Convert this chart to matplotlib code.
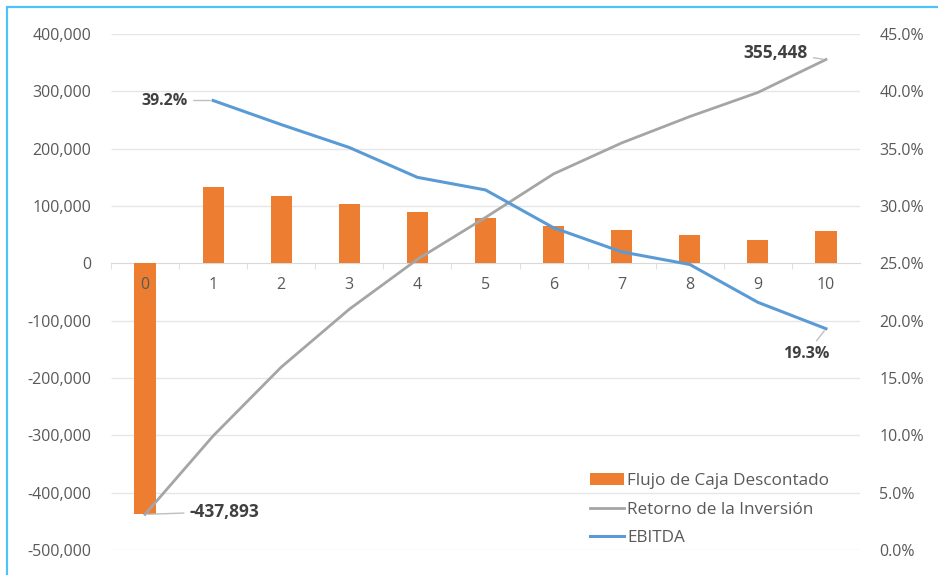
import matplotlib
matplotlib.use("Agg")
import matplotlib.pyplot as plt
from matplotlib.ticker import FuncFormatter, PercentFormatter
from matplotlib.patches import Rectangle

plt.rcParams['font.family'] = ['Open Sans', 'DejaVu Sans']

years = [0, 1, 2, 3, 4, 5, 6, 7, 8, 9, 10]
flujo = [-437893, 133000, 117000, 103000, 90000, 79000, 65000, 58000, 50000, 41000, 57000]
retorno = [-437893, -301000, -181000, -80000, 7000, 80000, 156000, 210000, 256000, 298000, 355448]
ebitda_years = [1, 2, 3, 4, 5, 6, 7, 8, 9, 10]
ebitda = [0.392, 0.371, 0.351, 0.325, 0.314, 0.281, 0.260, 0.249, 0.216, 0.193]

left_ticks = [-500000, -400000, -300000, -200000, -100000, 0, 100000, 200000, 300000, 400000]
right_ticks = [0.0, 0.05, 0.10, 0.15, 0.20, 0.25, 0.30, 0.35, 0.40, 0.45]

ORANGE = '#ED7D31'
GRAY = '#A5A5A5'
BLUE = '#5B9BD5'
TXT = '#595959'

fig = plt.figure(figsize=(9.38, 5.75), dpi=100)
fig.patch.set_facecolor('white')
fig.patches.append(Rectangle((7/938, -0.1), 2.0, 1 - 7/575 + 0.1, transform=fig.transFigure,
                             fill=False, edgecolor='#4FC3F7', linewidth=1.6, zorder=0))

ax = fig.add_axes([111/938, 1 - 550/575, (860 - 111)/938, (550 - 34)/575])
ax.set_facecolor('none')
ax.hlines([t for t in left_ticks if t != 0], -0.5, 10.5, color='#E6E6E6', linewidth=1, zorder=0)
bars = ax.bar(years, flujo, width=0.31, color=ORANGE, zorder=2, label='Flujo de Caja Descontado')
line_r, = ax.plot(years, retorno, color=GRAY, linewidth=2, zorder=3, label='Retorno de la Inversión')
ax.set_ylim(-500000, 400000)
ax.set_xlim(-0.5, 10.5)
ax.set_yticks(left_ticks)
ax.yaxis.set_major_formatter(FuncFormatter(lambda v, p: f"{int(v):,}"))
for s in ['top', 'right', 'left']:
    ax.spines[s].set_visible(False)
ax.spines['bottom'].set_position(('data', 0))
ax.spines['bottom'].set_color('#D9D9D9')
ax.spines['bottom'].set_zorder(1)
ax.set_xticks(years)
ax.set_xticks([y + 0.5 for y in years[:-1]] + [-0.5], minor=True)
ax.tick_params(axis='x', which='major', length=0, pad=10, labelsize=11.5, labelcolor=TXT)
ax.tick_params(axis='x', which='minor', length=4, color='#D9D9D9', direction='out')
ax.tick_params(axis='y', length=0, pad=14, labelsize=11.5, labelcolor=TXT)
ax.xaxis.set_zorder(4)

ax2 = ax.twinx()
line_e, = ax2.plot(ebitda_years, ebitda, color=BLUE, linewidth=2.2, label='EBITDA')
ax2.set_ylim(0, 0.45)
ax2.set_yticks(right_ticks)
ax2.yaxis.set_major_formatter(PercentFormatter(1.0, decimals=1))
ax2.tick_params(axis='y', length=0, pad=14, labelsize=11.5, labelcolor=TXT)
for s in ['top', 'right', 'left', 'bottom']:
    ax2.spines[s].set_visible(False)

ann_kw = dict(fontweight='bold', color='#404040', textcoords='offset points',
              arrowprops=dict(arrowstyle='-', color='#BFBFBF', lw=1))
ax.annotate(f"{retorno[0]:,}", xy=(years[0], retorno[0]), xytext=(32, 2), ha='left', va='center',
            fontsize=12.5, **ann_kw)
ax.annotate(f"{retorno[-1]:,}", xy=(years[-1], retorno[-1]), xytext=(-13, 5), ha='right', va='center',
            fontsize=12.5, **ann_kw)
ax2.annotate(f"{ebitda[0]*100:.1f}%", xy=(ebitda_years[0], ebitda[0]), xytext=(-18, 0), ha='right', va='center',
             fontsize=11.5, **ann_kw)
ax2.annotate(f"{ebitda[-1]*100:.1f}%", xy=(ebitda_years[-1], ebitda[-1]), xytext=(-14, -18), ha='center', va='center',
             fontsize=11.5, **ann_kw)

leg = ax2.legend([bars, line_r, line_e],
                 ['Flujo de Caja Descontado', 'Retorno de la Inversión', 'EBITDA'],
                 loc='upper left', bbox_to_anchor=(583/938, 1 - 466/575),
                 bbox_transform=fig.transFigure, frameon=False, fontsize=12.3,
                 handlelength=2.0, handletextpad=0.2, labelspacing=0.75, borderaxespad=0)
for t in leg.get_texts():
    t.set_color(TXT)

fig.savefig('out.png', dpi=100)
